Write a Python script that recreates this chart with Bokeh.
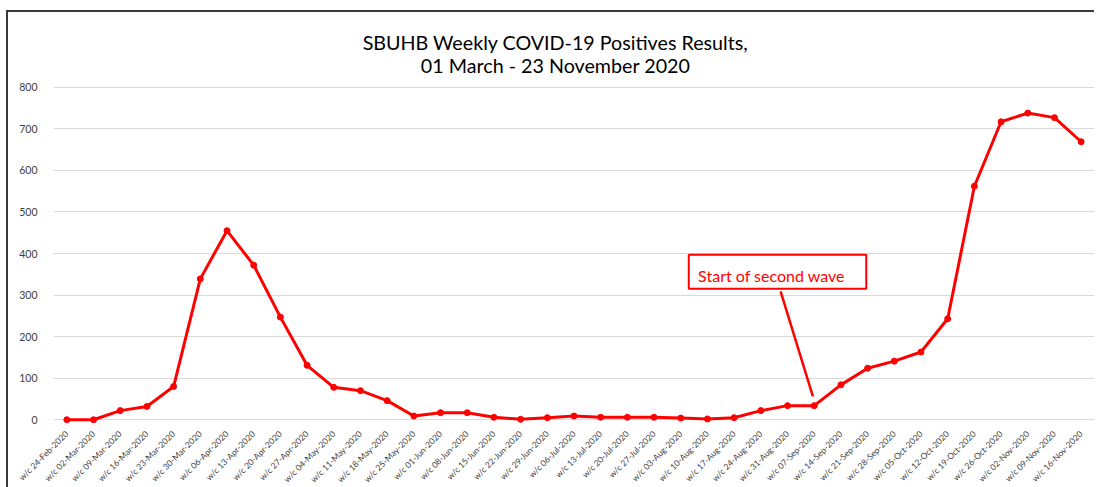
import math
from bokeh.plotting import figure
from bokeh.models import (Range1d, FixedTicker, Label, BoxAnnotation, Arrow,
                          ColumnDataSource)
from bokeh.embed import file_html
from bokeh.resources import INLINE

# ---- data ----
week_labels = [
    "w/c 24-Feb-2020", "w/c 02-Mar-2020", "w/c 09-Mar-2020", "w/c 16-Mar-2020",
    "w/c 23-Mar-2020", "w/c 30-Mar-2020", "w/c 06-Apr-2020", "w/c 13-Apr-2020",
    "w/c 20-Apr-2020", "w/c 27-Apr-2020", "w/c 04-May-2020", "w/c 11-May-2020",
    "w/c 18-May-2020", "w/c 25-May-2020", "w/c 01-Jun-2020", "w/c 08-Jun-2020",
    "w/c 15-Jun-2020", "w/c 22-Jun-2020", "w/c 29-Jun-2020", "w/c 06-Jul-2020",
    "w/c 13-Jul-2020", "w/c 20-Jul-2020", "w/c 27-Jul-2020", "w/c 03-Aug-2020",
    "w/c 10-Aug-2020", "w/c 17-Aug-2020", "w/c 24-Aug-2020", "w/c 31-Aug-2020",
    "w/c 07-Sep-2020", "w/c 14-Sep-2020", "w/c 21-Sep-2020", "w/c 28-Sep-2020",
    "w/c 05-Oct-2020", "w/c 12-Oct-2020", "w/c 19-Oct-2020", "w/c 26-Oct-2020",
    "w/c 02-Nov-2020", "w/c 09-Nov-2020", "w/c 16-Nov-2020",
]
positives = [0, 0, 22, 32, 80, 339, 455, 372, 247, 131,
             78, 70, 46, 9, 17, 17, 6, 1, 5, 9,
             6, 6, 6, 4, 2, 5, 22, 34, 34, 84,
             124, 141, 163, 243, 562, 717, 738, 727, 669]
y_ticks = [0, 100, 200, 300, 400, 500, 600, 700, 800]
title_lines = ["SBUHB Weekly COVID-19 Positives Results,", "01 March - 23 November 2020"]
annotation_text = "Start of second wave"

FONT = "Lato"
RED = "#FF0000"

idx = list(range(len(week_labels)))
src = ColumnDataSource(dict(x=idx, y=positives))

p = figure(
    frame_width=1041, frame_height=411,
    x_range=Range1d(-0.5, 38.5), y_range=Range1d(-9, 980),
    output_backend="svg", toolbar_location=None,
    min_border_left=45, min_border_right=0, min_border_top=0, min_border_bottom=0,
    background_fill_color="white", border_fill_color="white",
)
p.margin = (10, 0, 0, 6)
p.styles = {"border-top": "2px solid #3a3a3a", "border-left": "2px solid #3a3a3a"}
p.outline_line_color = None

# axes
p.xaxis.ticker = FixedTicker(ticks=idx)
p.xaxis.major_label_overrides = {i: lab for i, lab in zip(idx, week_labels)}
p.xaxis.major_label_orientation = math.pi / 4
p.xaxis.major_label_text_font = FONT
p.xaxis.major_label_text_font_size = "8.5px"
p.xaxis.major_label_text_color = "#404040"
p.xaxis.major_label_standoff = 3
p.xaxis.axis_line_color = None
p.xaxis.major_tick_line_color = None
p.xaxis.minor_tick_line_color = None

p.yaxis.ticker = FixedTicker(ticks=y_ticks)
p.yaxis.major_label_text_font = FONT
p.yaxis.major_label_text_font_size = "10.5px"
p.yaxis.major_label_text_color = "#404040"
p.yaxis.major_label_standoff = 10
p.yaxis.axis_line_color = None
p.yaxis.major_tick_line_color = None
p.yaxis.minor_tick_line_color = None

p.xgrid.grid_line_color = None
p.ygrid.ticker = FixedTicker(ticks=y_ticks)
p.ygrid.grid_line_color = "#d9d9d9"
p.ygrid.grid_line_width = 1

# series
p.line("x", "y", source=src, line_color=RED, line_width=3)
p.scatter("x", "y", source=src, size=6, fill_color=RED, line_color=RED)

# title
p.add_layout(Label(x=18.31, y=908, text=title_lines[0], text_align="center",
                   text_baseline="alphabetic", text_font=FONT,
                   text_font_size="19.7px", text_color="#000000"))
p.add_layout(Label(x=18.31, y=852, text=title_lines[1], text_align="center",
                   text_baseline="alphabetic", text_font=FONT,
                   text_font_size="19.7px", text_color="#000000"))

# annotation
p.add_layout(BoxAnnotation(left=23.3, right=29.95, bottom=315, top=397,
                           fill_color="white", fill_alpha=1.0,
                           line_color=RED, line_alpha=1.0, line_width=2))
p.add_layout(Label(x=23.65, y=347, text=annotation_text, text_align="left",
                   text_baseline="alphabetic", text_font=FONT,
                   text_font_size="16px", text_color=RED))
p.add_layout(Arrow(end=None, x_start=26.74, y_start=309, x_end=27.95, y_end=56,
                   line_color=RED, line_width=2.5))

open("out.html", "w").write(file_html(p, INLINE))
